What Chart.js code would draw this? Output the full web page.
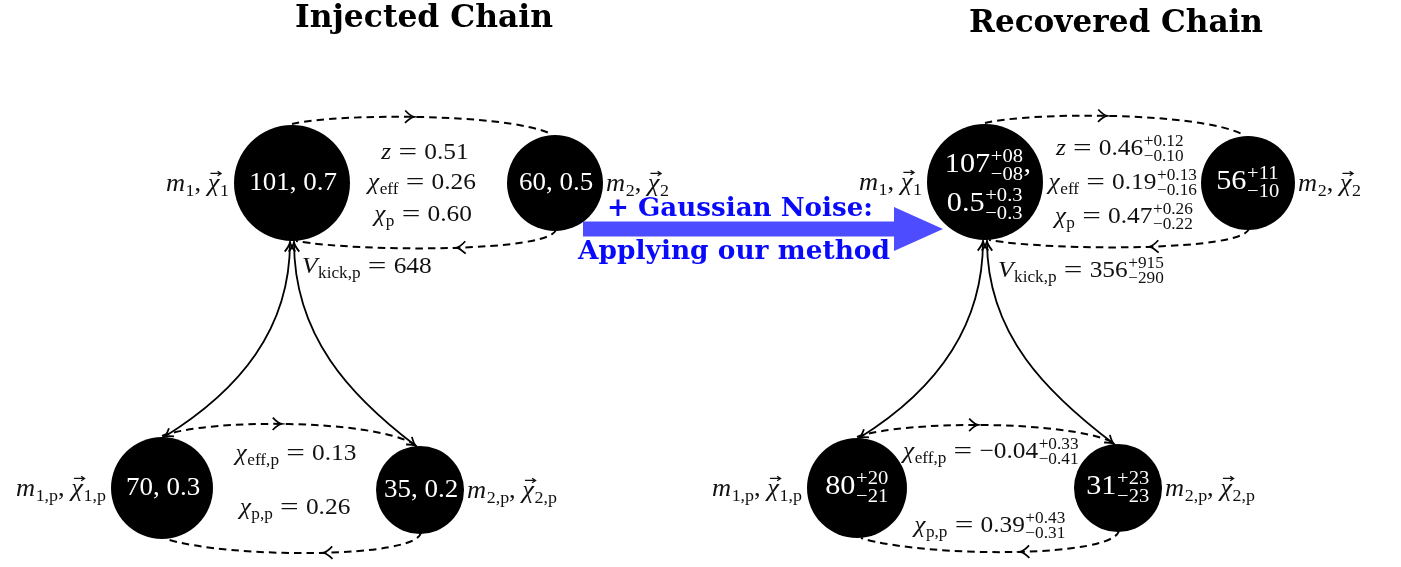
<!DOCTYPE html>
<html><head><meta charset="utf-8">
<script src="https://cdn.jsdelivr.net/npm/chart.js@4/dist/chart.umd.min.js"></script>
<style>html,body{margin:0;padding:0;background:#fff;overflow:hidden}canvas{display:block}</style>
</head><body>
<canvas id="c" width="1401" height="567"></canvas>
<script>
// ---------------- DATA ----------------
const chainTitles = ['Injected Chain', 'Recovered Chain'];
const nodeNames = ['m1', 'm2', 'm1p', 'm2p'];
// injected masses and spins
const injMass = ['101', '60', '70', '35'];
const injSpin = ['0.7', '0.5', '0.3', '0.2'];
// recovered masses with errors
const recMass = ['107', '56', '80', '31'];
const recMassUp = ['+08', '+11', '+20', '+23'];
const recMassLo = ['\u221208', '\u221210', '\u221221', '\u221223'];
// recovered primary spin of m1
const recSpin1 = ['0.5', '+0.3', '\u22120.3'];
// binary parameters: z, chi_eff, chi_p, V_kick,p, chi_eff,p, chi_p,p
const paramNames = ['z', 'chiEff', 'chiP', 'vKick', 'chiEffP', 'chiPP'];
const injParams = ['0.51', '0.26', '0.60', '648', '0.13', '0.26'];
const recParams = ['0.46', '0.19', '0.47', '356', '\u22120.04', '0.39'];
const recParamsUp = ['+0.12', '+0.13', '+0.26', '+915', '+0.33', '+0.43'];
const recParamsLo = ['\u22120.10', '\u22120.16', '\u22120.22', '\u2212290', '\u22120.41', '\u22120.31'];
const arrowText = ['+ Gaussian Noise:', 'Applying our method'];

// ---------------- LAYOUT (diagram units) ----------------
const nodeX = [[292, 555, 162, 420], [985, 1248, 857, 1118]];
const nodeY = [[183, 183, 488, 490], [182, 183, 488, 488]];
const nodeR = [[58, 48, 51, 44], [58, 47, 50, 44]];

const FONT = '"Liberation Serif", "Times New Roman", serif';
const HS = 1.08; // horizontal stretch of math text
function fnt(style, px, bold) { return (style === 'italic' ? 'italic ' : '') + (bold ? 'bold ' : '') + px.toFixed(2) + 'px ' + FONT; }
const I = t => ({ t, f: 'italic' });
const R = t => ({ t, f: 'normal' });
const S = t => ({ t, f: 'normal', sub: true });
const SS = (a, b) => ({ ss: [a, b] });
const V = t => ({ t, f: 'italic', vec: true });
const EQ = { eq: true };
const SUBF = 0.68;

function tokW(ctx, k, s) {
  if (k.eq) return s * 1.3;
  if (k.ss) { ctx.font = fnt('normal', s * SUBF); return Math.max(ctx.measureText(k.ss[0]).width, ctx.measureText(k.ss[1]).width) + s * 0.04; }
  if (k.sub) { ctx.font = fnt(k.f, s * SUBF); return ctx.measureText(k.t).width + s * 0.02; }
  ctx.font = fnt(k.f, s); return ctx.measureText(k.t).width;
}
function drawMath(ctx, toks, x, y, s, align, color) {
  let w = 0; for (const k of toks) w += tokW(ctx, k, s);
  const W = w * HS;
  const x0 = align === 'center' ? x - W / 2 : (align === 'right' ? x - W : x);
  const base = y + s * 0.33;
  ctx.save();
  ctx.translate(x0, base); ctx.scale(HS, 1);
  ctx.fillStyle = color; ctx.strokeStyle = color;
  ctx.textBaseline = 'alphabetic'; ctx.textAlign = 'left';
  let cx = 0;
  for (const k of toks) {
    const tw = tokW(ctx, k, s);
    if (k.eq) {
      ctx.font = fnt('normal', s);
      ctx.save(); ctx.translate(cx + tw / 2, 0); ctx.scale(1.3, 1);
      ctx.textAlign = 'center'; ctx.fillText('=', 0, 0); ctx.restore();
    } else if (k.ss) {
      ctx.font = fnt('normal', s * SUBF);
      ctx.fillText(k.ss[0], cx + s * 0.02, -s * 0.38);
      ctx.fillText(k.ss[1], cx + s * 0.02, s * 0.28);
    } else if (k.sub) {
      ctx.font = fnt(k.f, s * SUBF);
      ctx.fillText(k.t, cx + s * 0.02, s * 0.22);
    } else {
      ctx.font = fnt(k.f, s);
      ctx.fillText(k.t, cx, 0);
      if (k.vec) {
        const ay = -s * 0.72, a0 = cx + tw * 0.22, a1 = cx + tw + s * 0.06;
        ctx.lineWidth = Math.max(1, s * 0.05);
        ctx.beginPath(); ctx.moveTo(a0, ay); ctx.lineTo(a1, ay);
        ctx.moveTo(a1 - s * 0.13, ay - s * 0.09); ctx.lineTo(a1, ay); ctx.lineTo(a1 - s * 0.13, ay + s * 0.09);
        ctx.stroke();
      }
    }
    cx += tw;
  }
  ctx.restore();
}
function drawFit(ctx, text, cx, base, width, color, family) {
  ctx.save();
  ctx.font = 'bold 100px ' + family;
  const w100 = ctx.measureText(text).width;
  const px = 100 * width / w100;
  ctx.font = 'bold ' + px.toFixed(2) + 'px ' + family;
  ctx.fillStyle = color; ctx.textAlign = 'center'; ctx.textBaseline = 'alphabetic';
  ctx.fillText(text, cx, base);
  ctx.restore();
}

function bez(p, t) {
  const u = 1 - t;
  return [u*u*u*p[0][0] + 3*u*u*t*p[1][0] + 3*u*t*t*p[2][0] + t*t*t*p[3][0],
          u*u*u*p[0][1] + 3*u*u*t*p[1][1] + 3*u*t*t*p[2][1] + t*t*t*p[3][1]];
}
function bezD(p, t) {
  const u = 1 - t;
  return [3*u*u*(p[1][0]-p[0][0]) + 6*u*t*(p[2][0]-p[1][0]) + 3*t*t*(p[3][0]-p[2][0]),
          3*u*u*(p[1][1]-p[0][1]) + 6*u*t*(p[2][1]-p[1][1]) + 3*t*t*(p[3][1]-p[2][1])];
}
function chevron(ctx, tip, dir, len, ang) {
  const a = Math.atan2(dir[1], dir[0]);
  ctx.beginPath();
  ctx.moveTo(tip[0] - len * Math.cos(a - ang), tip[1] - len * Math.sin(a - ang));
  ctx.quadraticCurveTo(tip[0] - len * 0.35 * Math.cos(a - ang * 0.3), tip[1] - len * 0.35 * Math.sin(a - ang * 0.3), tip[0], tip[1]);
  ctx.quadraticCurveTo(tip[0] - len * 0.35 * Math.cos(a + ang * 0.3), tip[1] - len * 0.35 * Math.sin(a + ang * 0.3), tip[0] - len * Math.cos(a + ang), tip[1] - len * Math.sin(a + ang));
  ctx.stroke();
}

const diagramPlugin = {
  id: 'diagram',
  beforeDatasetsDraw(chart) {
    const ctx = chart.ctx, sx = chart.scales.x, sy = chart.scales.y;
    const P = (x, y) => [sx.getPixelForValue(x), sy.getPixelForValue(y)];
    ctx.save();
    ctx.strokeStyle = '#000';
    ctx.lineCap = 'butt';
    for (let c = 0; c < 2; c++) {
      const X = nodeX[c], Y = nodeY[c], Rr = nodeR[c];
      const pairs = [[0, 1, 7, 7], [2, 3, 12, 14]];
      for (const [a, b, up, dn] of pairs) {
        const t0 = [X[a], Y[a] - Rr[a] - 1], t3 = [X[b] - 6, Y[b] - Rr[b] - 2];
        const peak = Math.min(t0[1], t3[1]) - up;
        const ct = (peak - 0.125 * (t0[1] + t3[1])) / 0.75;
        const dx = t3[0] - t0[0];
        const top = [t0, [t0[0] + 0.18 * dx, ct], [t0[0] + 0.82 * dx, ct], t3].map(p => P(p[0], p[1]));
        const b0 = [X[b] + 1, Y[b] + Rr[b] - 2], b3 = [X[a] + 4, Y[a] + Rr[a]];
        const low = Math.max(b0[1], b3[1]) + dn;
        const cb = (low - 0.125 * (b0[1] + b3[1])) / 0.75;
        const dxb = b3[0] - b0[0];
        const bot = [b0, [b0[0] - 2, cb], [b0[0] + 0.75 * dxb, cb], b3].map(p => P(p[0], p[1]));
        ctx.lineWidth = 2;
        ctx.setLineDash([7.5, 5]);
        for (const arc of [top, bot]) {
          ctx.beginPath(); ctx.moveTo(arc[0][0], arc[0][1]);
          ctx.bezierCurveTo(arc[1][0], arc[1][1], arc[2][0], arc[2][1], arc[3][0], arc[3][1]);
          ctx.stroke();
        }
        ctx.setLineDash([]);
        ctx.lineWidth = 1.7;
        for (const arc of [top, bot]) {
          const t = 0.48;
          chevron(ctx, bez(arc, t), bezD(arc, t), 11, 0.6);
        }
      }
      ctx.lineWidth = 1.8;
      const s0 = [X[0] - 2, Y[0] + Rr[0] + 1];
      const left = [s0, [X[0] - 2, Y[0] + Rr[0] + 88], [X[2] + 78, Y[2] - Rr[2] - 47], [X[2] + 2, Y[2] - Rr[2]]].map(p => P(p[0], p[1]));
      const s1 = [X[0] + 2, Y[0] + Rr[0] + 1];
      const right = [s1, [X[0] + 2, Y[0] + Rr[0] + 95], [X[3] - 70, Y[3] - Rr[3] - 50], [X[3] - 4, Y[3] - Rr[3]]].map(p => P(p[0], p[1]));
      for (const cv of [left, right]) {
        ctx.beginPath(); ctx.moveTo(cv[0][0], cv[0][1]);
        ctx.bezierCurveTo(cv[1][0], cv[1][1], cv[2][0], cv[2][1], cv[3][0], cv[3][1]);
        ctx.stroke();
        const d0 = bezD(cv, 0.0);
        chevron(ctx, cv[0], [-d0[0], -d0[1]], 11, 0.5);
        chevron(ctx, cv[3], bezD(cv, 1), 10, 0.5);
      }
    }
    const ax0 = 583, ax1 = 894, tip = 943, ym = 229, hw = 7.5, hh = 22;
    const pts = [[ax0, ym - hw], [ax1, ym - hw], [ax1, ym - hh], [tip, ym], [ax1, ym + hh], [ax1, ym + hw], [ax0, ym + hw]].map(p => P(p[0], p[1]));
    ctx.fillStyle = 'rgb(77,77,255)';
    ctx.beginPath(); ctx.moveTo(pts[0][0], pts[0][1]);
    for (let i = 1; i < pts.length; i++) ctx.lineTo(pts[i][0], pts[i][1]);
    ctx.closePath(); ctx.fill();
    ctx.restore();
  },
  afterDatasetsDraw(chart) {
    const ctx = chart.ctx, sx = chart.scales.x, sy = chart.scales.y;
    const P = (x, y) => [sx.getPixelForValue(x), sy.getPixelForValue(y)];
    const K = '#111', W = '#fff';
    const serifBold = '"DejaVu Serif", serif';
    let p = P(424, 27); drawFit(ctx, chainTitles[0], p[0], p[1], 258, '#000', serifBold);
    p = P(1116, 32); drawFit(ctx, chainTitles[1], p[0], p[1], 294, '#000', serifBold);
    p = P(740, 216); drawFit(ctx, arrowText[0], p[0], p[1], 266, 'rgb(10,10,250)', serifBold);
    p = P(734, 259); drawFit(ctx, arrowText[1], p[0], p[1], 312, 'rgb(10,10,250)', serifBold);

    const fs = 23.5, ls = 24.5;
    const lab = (c, i, toks, side) => {
      const xx = side === 'l' ? nodeX[c][i] - nodeR[c][i] - 5 : nodeX[c][i] + nodeR[c][i] + 3;
      const q = P(xx, nodeY[c][i]);
      drawMath(ctx, toks, q[0], q[1], ls, side === 'l' ? 'right' : 'left', K);
    };
    for (let c = 0; c < 2; c++) {
      lab(c, 0, [I('m'), S('1'), R(', '), V('\u03c7'), S('1')], 'l');
      lab(c, 1, [I('m'), S('2'), R(', '), V('\u03c7'), S('2')], 'r');
      lab(c, 2, [I('m'), S('1,p'), R(', '), V('\u03c7'), S('1,p')], 'l');
      lab(c, 3, [I('m'), S('2,p'), R(', '), V('\u03c7'), S('2,p')], 'r');
    }

    // ----- injected chain -----
    const X = nodeX[0], Y = nodeY[0];
    for (let i = 0; i < 4; i++) {
      const q = P(X[i] + 1, Y[i] - 1);
      drawMath(ctx, [R(injMass[i] + ', ' + injSpin[i])], q[0], q[1], 25, 'center', W);
    }
    p = P(425, 151); drawMath(ctx, [I('z'), EQ, R(injParams[0])], p[0], p[1], fs, 'center', K);
    p = P(422, 181); drawMath(ctx, [I('\u03c7'), S('eff'), EQ, R(injParams[1])], p[0], p[1], fs, 'center', K);
    p = P(423, 213); drawMath(ctx, [I('\u03c7'), S('p'), EQ, R(injParams[2])], p[0], p[1], fs, 'center', K);
    p = P(302, 265); drawMath(ctx, [I('V'), S('kick,p'), EQ, R(injParams[3])], p[0], p[1], fs, 'left', K);
    p = P(296, 452); drawMath(ctx, [I('\u03c7'), S('eff,p'), EQ, R(injParams[4])], p[0], p[1], fs, 'center', K);
    p = P(295, 506); drawMath(ctx, [I('\u03c7'), S('p,p'), EQ, R(injParams[5])], p[0], p[1], fs, 'center', K);

    // ----- recovered chain -----
    const X2 = nodeX[1], Y2 = nodeY[1];
    const rs = 28;
    p = P(X2[0] + 3, Y2[0] - 19); drawMath(ctx, [R(recMass[0]), SS(recMassUp[0], recMassLo[0]), R(',')], p[0], p[1], rs, 'center', W);
    p = P(X2[0], Y2[0] + 20); drawMath(ctx, [R(recSpin1[0]), SS(recSpin1[1], recSpin1[2])], p[0], p[1], rs, 'center', W);
    for (let i = 1; i < 4; i++) {
      const q = P(X2[i], Y2[i] - 3);
      drawMath(ctx, [R(recMass[i]), SS(recMassUp[i], recMassLo[i])], q[0], q[1], rs, 'center', W);
    }
    p = P(1120, 147); drawMath(ctx, [I('z'), EQ, R(recParams[0]), SS(recParamsUp[0], recParamsLo[0])], p[0], p[1], fs, 'center', K);
    p = P(1123, 181); drawMath(ctx, [I('\u03c7'), S('eff'), EQ, R(recParams[1]), SS(recParamsUp[1], recParamsLo[1])], p[0], p[1], fs, 'center', K);
    p = P(1124, 215); drawMath(ctx, [I('\u03c7'), S('p'), EQ, R(recParams[2]), SS(recParamsUp[2], recParamsLo[2])], p[0], p[1], fs, 'center', K);
    p = P(998, 269); drawMath(ctx, [I('V'), S('kick,p'), EQ, R(recParams[3]), SS(recParamsUp[3], recParamsLo[3])], p[0], p[1], fs, 'left', K);
    p = P(991, 450); drawMath(ctx, [I('\u03c7'), S('eff,p'), EQ, R(recParams[4]), SS(recParamsUp[4], recParamsLo[4])], p[0], p[1], fs, 'center', K);
    p = P(990, 524); drawMath(ctx, [I('\u03c7'), S('p,p'), EQ, R(recParams[5]), SS(recParamsUp[5], recParamsLo[5])], p[0], p[1], fs, 'center', K);
  }
};

const bubbleData = [];
for (let c = 0; c < 2; c++) for (let i = 0; i < nodeNames.length; i++) bubbleData.push({ x: nodeX[c][i], y: nodeY[c][i], r: nodeR[c][i] });

new Chart(document.getElementById('c'), {
  type: 'bubble',
  data: { datasets: [{ data: bubbleData, backgroundColor: '#000', borderColor: '#000', borderWidth: 0, hoverRadius: 0 }] },
  options: {
    responsive: false, animation: false, devicePixelRatio: 1,
    layout: { padding: 0, autoPadding: false },
    events: [],
    clip: false,
    plugins: { legend: { display: false }, tooltip: { enabled: false }, title: { display: false } },
    scales: {
      x: { type: 'linear', min: 0, max: 1401, display: false },
      y: { type: 'linear', min: 0, max: 567, reverse: true, display: false }
    }
  },
  plugins: [diagramPlugin]
});
</script>
</body></html>
